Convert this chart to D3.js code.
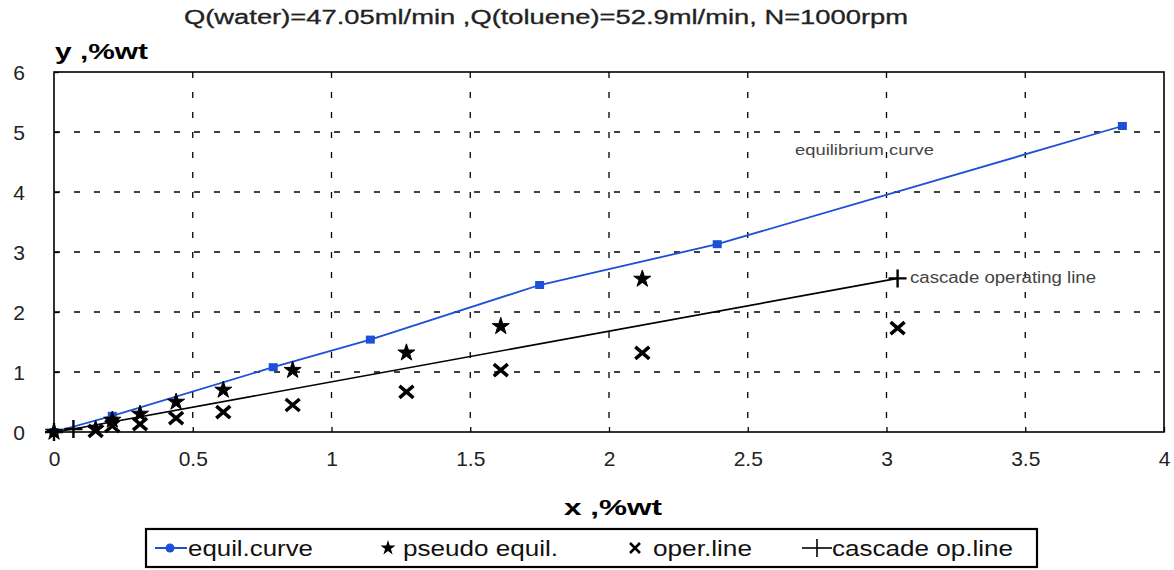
<!DOCTYPE html>
<html>
<head>
<meta charset="utf-8">
<script src="https://cdn.jsdelivr.net/npm/d3@7"></script>
<style>
body{margin:0;background:#fff;}
text{font-family:"Liberation Sans",Arial,sans-serif;}
</style>
</head>
<body>
<script>
// chart data
var equilX=[0,0.21,0.79,1.14,1.75,2.39,3.85];
var equilY=[0,0.27,1.08,1.54,2.45,3.13,5.1];
var pseudoX=[0,0.15,0.21,0.31,0.44,0.61,0.86,1.27,1.61,2.12];
var pseudoY=[0,0.05,0.2,0.3,0.5,0.7,1.03,1.32,1.76,2.55];
var operX=[0.15,0.21,0.31,0.44,0.61,0.86,1.27,1.61,2.12,3.04];
var operY=[0.02,0.1,0.13,0.23,0.33,0.45,0.67,1.03,1.32,1.73];
var cascadeX=[0,0.07,3.04];
var cascadeY=[0,0.05,2.56];
var xTicks=[0,0.5,1,1.5,2,2.5,3,3.5,4];
var yTicks=[0,1,2,3,4,5,6];
var legendNames=["equil.curve","pseudo equil.","oper.line","cascade op.line"];

var width=1174, height=570;
var pLeft=54, pRight=1164, pTop=72, pBottom=432;
var blue="#1d4fd8";

var svg=d3.select("body").append("svg")
  .attr("width",width).attr("height",height);

var x=d3.scaleLinear().domain([0,4]).range([pLeft,pRight]);
var y=d3.scaleLinear().domain([0,6]).range([pBottom,pTop]);

// grid
svg.append("g").selectAll("line").data(xTicks.slice(1,-1)).enter().append("line")
  .attr("x1",d=>x(d)).attr("x2",d=>x(d)).attr("y1",pTop).attr("y2",pBottom)
  .attr("stroke","#000").attr("stroke-width",1.3).attr("stroke-dasharray","6,14");
svg.append("g").selectAll("line").data(yTicks.slice(1,-1)).enter().append("line")
  .attr("y1",d=>y(d)).attr("y2",d=>y(d)).attr("x1",pLeft).attr("x2",pRight)
  .attr("stroke","#000").attr("stroke-width",1.3).attr("stroke-dasharray","6,14");

// frame
svg.append("rect").attr("x",pLeft).attr("y",pTop).attr("width",pRight-pLeft).attr("height",pBottom-pTop)
  .attr("fill","none").attr("stroke","#000").attr("stroke-width",1.6);

// axes
var xAxis=svg.append("g").attr("transform","translate(0,"+pBottom+")")
  .call(d3.axisBottom(x).tickValues(xTicks).tickSize(-5).tickPadding(19).tickFormat(d3.format("")));
var yAxis=svg.append("g").attr("transform","translate("+pLeft+",0)")
  .call(d3.axisLeft(y).tickValues(yTicks).tickSize(-5).tickPadding(29).tickFormat(d3.format("")));
[xAxis,yAxis].forEach(function(a){
  a.select(".domain").remove();
  a.selectAll("line").attr("stroke","#000").attr("stroke-width",1.3);
  a.selectAll("text").attr("font-size",21).attr("fill","#222")
    .attr("font-family","Liberation Sans, Arial, sans-serif");
});
yAxis.selectAll("text").attr("dy","0.36em");

// title and axis labels
svg.append("text").attr("x",546).attr("y",24).attr("text-anchor","middle")
  .attr("font-size",20).attr("fill","#222").attr("stroke","#222").attr("stroke-width",0.3)
  .attr("textLength",724).attr("lengthAdjust","spacingAndGlyphs")
  .text("Q(water)=47.05ml/min ,Q(toluene)=52.9ml/min, N=1000rpm");
svg.append("text").attr("x",55).attr("y",59).attr("font-size",22).attr("font-weight","bold")
  .attr("textLength",93).attr("lengthAdjust","spacingAndGlyphs").text("y ,%wt");
svg.append("text").attr("x",564).attr("y",515).attr("font-size",22).attr("font-weight","bold")
  .attr("textLength",98).attr("lengthAdjust","spacingAndGlyphs").text("x ,%wt");

// lines
var line=d3.line().x(d=>x(d[0])).y(d=>y(d[1]));
var equil=d3.zip(equilX,equilY);
var cascade=d3.zip(cascadeX,cascadeY);
svg.append("path").datum(cascade).attr("d",line).attr("fill","none")
  .attr("stroke","#000").attr("stroke-width",1.6);
svg.append("path").datum(equil).attr("d",line).attr("fill","none")
  .attr("stroke",blue).attr("stroke-width",1.8);

// markers
svg.append("g").selectAll("rect").data(equil).enter().append("rect")
  .attr("x",d=>x(d[0])-4.5).attr("y",d=>y(d[1])-4).attr("width",9).attr("height",8)
  .attr("fill",blue);

var star=d3.symbol().type(d3.symbolStar).size(90);
svg.append("g").selectAll("path").data(d3.zip(pseudoX,pseudoY)).enter().append("path")
  .attr("d",star).attr("transform",d=>"translate("+x(d[0])+","+y(d[1])+")")
  .attr("fill","#000").attr("stroke","#000").attr("stroke-width",1);

var cross="M-7,-6L7,6M-7,6L7,-6";
svg.append("g").selectAll("path").data(d3.zip(operX,operY)).enter().append("path")
  .attr("d",cross).attr("transform",d=>"translate("+x(d[0])+","+y(d[1])+")")
  .attr("stroke","#000").attr("stroke-width",3.5).attr("fill","none");

var plus="M-9,0L9,0M0,-9L0,9";
svg.append("g").selectAll("path").data(cascade).enter().append("path")
  .attr("d",plus).attr("transform",d=>"translate("+x(d[0])+","+y(d[1])+")")
  .attr("stroke","#000").attr("stroke-width",2.4).attr("fill","none");

// annotations
svg.append("text").attr("x",795).attr("y",155).attr("font-size",15).attr("fill","#444")
  .attr("textLength",139).attr("lengthAdjust","spacingAndGlyphs").text("equilibrium curve");
svg.append("text").attr("x",910).attr("y",283).attr("font-size",16).attr("fill","#444")
  .attr("textLength",186).attr("lengthAdjust","spacingAndGlyphs").text("cascade operating line");

// legend
var lg=svg.append("g");
lg.append("rect").attr("x",146).attr("y",529).attr("width",891).attr("height",38)
  .attr("fill","#fff").attr("stroke","#000").attr("stroke-width",2.2);
var lx=[155,380,628,802];
var textX=[33,23,25,30];
var textW=[125,155,99,181];
var items=lg.selectAll("g").data(legendNames).enter().append("g")
  .attr("transform",(d,i)=>"translate("+lx[i]+",548)");
items.append("text").attr("x",(d,i)=>textX[i]).attr("dy","0.35em")
  .attr("font-size",22).attr("fill","#111")
  .attr("textLength",(d,i)=>textW[i]).attr("lengthAdjust","spacingAndGlyphs").text(d=>d);
var i0=items.filter((d,i)=>i===0);
i0.append("line").attr("x1",0).attr("x2",32).attr("stroke",blue).attr("stroke-width",2);
i0.append("circle").attr("cx",15).attr("r",4.5).attr("fill",blue);
items.filter((d,i)=>i===1).append("path").attr("d",d3.symbol().type(d3.symbolStar).size(70))
  .attr("transform","translate(8,0)");
items.filter((d,i)=>i===2).append("path").attr("d","M-5,-5L5,5M-5,5L5,-5")
  .attr("transform","translate(7,0)").attr("stroke","#000").attr("stroke-width",2.5);
var i3=items.filter((d,i)=>i===3);
i3.append("line").attr("x1",0).attr("x2",30).attr("stroke","#000").attr("stroke-width",1.6);
i3.append("line").attr("x1",15).attr("x2",15).attr("y1",-9).attr("y2",9).attr("stroke","#000").attr("stroke-width",1.6);
</script>
</body>
</html>
